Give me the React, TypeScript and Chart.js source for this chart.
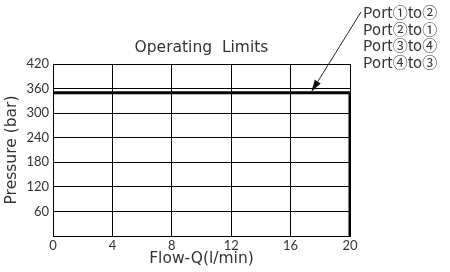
import React, { useEffect, useRef } from "react";
import { Chart, registerables } from "chart.js";

Chart.register(...registerables);

const flow = [0, 20, 20];
const pressure = [350, 350, 0];
const yTicks = [60, 120, 180, 240, 300, 360, 420];
const xTicks = [0, 4, 8, 12, 16, 20];
const legendLines = ["Port①to②", "Port②to①", "Port③to④", "Port④to③"];
const arrowTip = { x: 17.4, y: 352 };
const titleText = "Operating  Limits";

const FONT = "'DejaVu Sans', sans-serif";
const TICKFONT = "Lato, 'DejaVu Sans', sans-serif";
const LEGFONT = "'Noto Sans CJK JP', 'Noto Sans', sans-serif";
const TXT = "#333";

const overlay = {
  id: "overlay",
  afterDraw(chart: any) {
    const ctx = chart.ctx;
    const { x, y } = chart.scales;
    const area = chart.chartArea;
    ctx.save();
    // title
    ctx.fillStyle = TXT;
    ctx.font = `15.5px ${FONT}`;
    ctx.textAlign = "center";
    ctx.textBaseline = "middle";
    ctx.fillText(titleText, (area.left + area.right) / 2, 48);
    // legend text
    ctx.font = `15px ${LEGFONT}`;
    ctx.textAlign = "left";
    legendLines.forEach((t, i) => ctx.fillText(t, 363, 12.5 + i * 16.5));
    // arrow
    const tx = x.getPixelForValue(arrowTip.x);
    const ty = y.getPixelForValue(arrowTip.y);
    const sx = 361, sy = 12;
    const ang = Math.atan2(ty - sy, tx - sx);
    const len = 12, half = 3.5;
    const bx = tx - len * Math.cos(ang), by = ty - len * Math.sin(ang);
    ctx.strokeStyle = "#222";
    ctx.lineWidth = 1;
    ctx.beginPath();
    ctx.moveTo(sx, sy);
    ctx.lineTo(bx, by);
    ctx.stroke();
    ctx.fillStyle = "#111";
    ctx.beginPath();
    ctx.moveTo(tx, ty);
    ctx.lineTo(bx + half * Math.sin(ang), by - half * Math.cos(ang));
    ctx.lineTo(bx - half * Math.sin(ang), by + half * Math.cos(ang));
    ctx.closePath();
    ctx.fill();
    ctx.restore();
  },
};

export default function App() {
  const ref = useRef<HTMLCanvasElement>(null);
  useEffect(() => {
    const chart = new Chart(ref.current!, {
      type: "scatter",
      data: {
        datasets: [
          {
            data: flow.map((f, i) => ({ x: f, y: pressure[i] })),
            showLine: true,
            borderColor: "#000",
            borderWidth: 3,
            pointRadius: 0,
            fill: false,
          },
        ],
      },
      options: {
        animation: false,
        responsive: false,
        layout: { padding: { top: 64, right: 100, left: 0, bottom: 0 } },
        plugins: { legend: { display: false }, tooltip: { enabled: false }, title: { display: false } },
        scales: {
          x: {
            type: "linear",
            min: 0,
            max: 20,
            afterBuildTicks: (s: any) => { s.ticks = xTicks.map((v) => ({ value: v })); },
            afterFit: (s: any) => { s.height = 36; },
            ticks: { color: TXT, font: { size: 13, family: TICKFONT }, padding: 2, maxRotation: 0 },
            grid: { color: "#000", lineWidth: 1, drawTicks: false },
            border: { color: "#000", width: 1 },
            title: { display: true, text: "Flow-Q(l/min)", color: TXT, font: { size: 15.5, family: FONT }, padding: { top: 0, bottom: 4 } },
          },
          y: {
            type: "linear",
            min: 0,
            max: 420,
            afterBuildTicks: (s: any) => { s.ticks = [0, ...yTicks].map((v) => ({ value: v })); },
            afterFit: (s: any) => { s.width = 53; },
            ticks: { color: TXT, font: { size: 13, family: TICKFONT }, padding: 4, callback: (v: any) => (v === 0 ? "" : String(v)) },
            grid: { color: "#000", lineWidth: 1, drawTicks: false },
            border: { color: "#000", width: 1 },
            title: { display: true, text: "Pressure (bar)", color: TXT, font: { size: 15.5, family: FONT }, padding: { top: 3, bottom: 0 } },
          },
        },
      },
      plugins: [overlay],
    } as any);
    return () => chart.destroy();
  }, []);
  return (
    <div style={{ position: "fixed", left: 0, top: 0, width: 450, height: 272, background: "#fff" }}>
      <canvas ref={ref} width={450} height={272} />
    </div>
  );
}
